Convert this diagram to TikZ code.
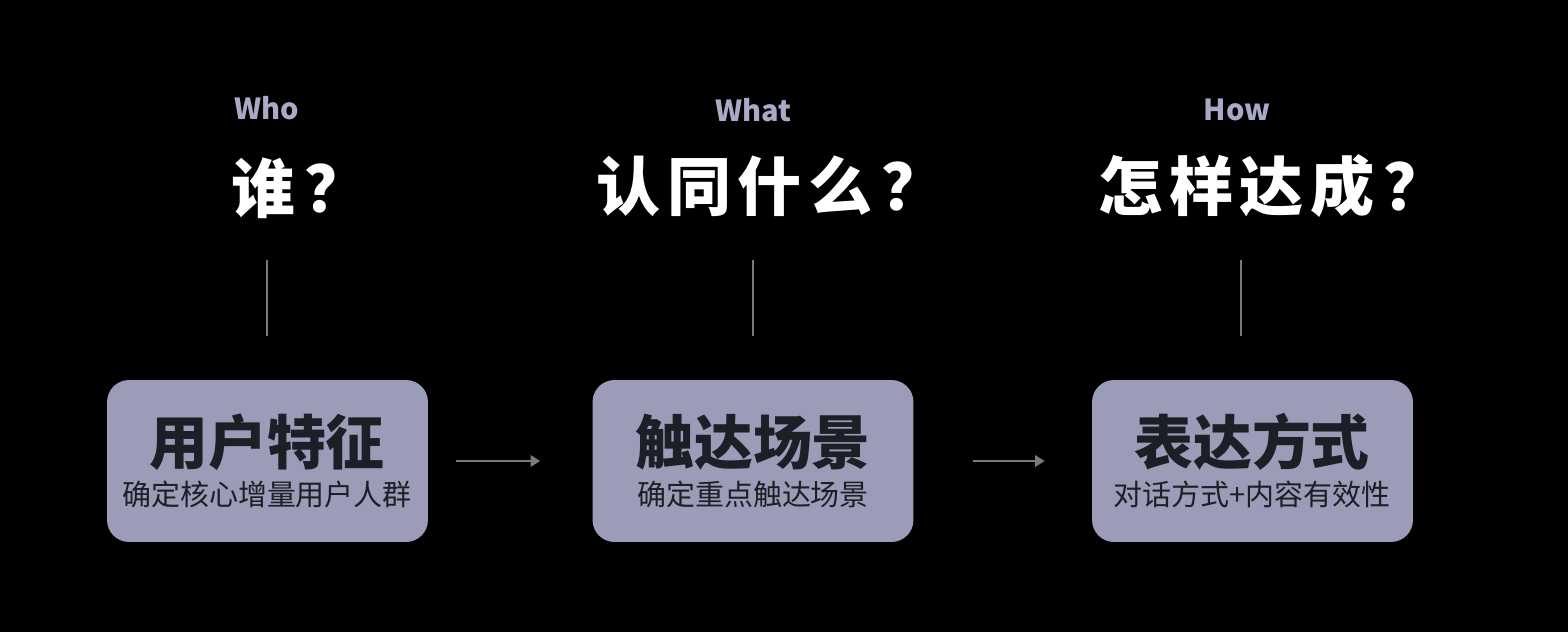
\documentclass[tikz,border=0pt]{standalone}
\usepackage{fontspec}
\newfontfamily\cjk{Noto Sans CJK SC}
\newfontfamily\cjkwide[LetterSpace=10]{Noto Sans CJK SC}
\usetikzlibrary{arrows.meta}
\definecolor{boxfill}{HTML}{9A9CB8}
\definecolor{boxtext}{HTML}{1E1E26}
\definecolor{wlabel}{HTML}{A9AAC6}
\definecolor{linegray}{HTML}{7A7A7A}
\newcommand{\qmark}{\hspace{0.14em}？}
\begin{document}
\begin{tikzpicture}[x=0.02cm,y=-0.02cm]
		    \tikzset{
   			card/.style={draw=none, fill=boxfill, rounded corners=0.44cm, minimum width=6.42cm, minimum height=3.24cm, inner sep=0pt},
    		title/.style={text=boxtext, font=\cjk\bfseries\fontsize{33.5}{36}\selectfont},
    		sub/.style={text=boxtext, font=\cjk\fontsize{16.5}{19}\selectfont},
    		ask/.style={text=white, font=\cjkwide\bfseries\fontsize{36.5}{40}\selectfont},
    		eng/.style={text=wlabel, font=\cjk\bfseries\fontsize{16.5}{18}\selectfont},
    		tick/.style={draw=linegray, line width=0.6pt},
    		arc/.style={-{Triangle[length=5.5pt,width=6.5pt]}, draw=linegray, line width=1.3pt}
		    }
            \fill[black] (0,0) rectangle (1568,632);

            \draw node[card] (c1) at (267.5,461) {};
            \draw node[card] (c2) at (753,461) {};
            \draw node[card] (c3) at (1252.5,461) {};

            \draw node[title] (t1) at (267,442) {用户特征};
            \draw node[title] (t2) at (753,442) {触达场景};
            \draw node[title] (t3) at (1252,442) {表达方式};
            \draw node[sub] (s1) at (267,494) {确定核心增量用户人群};
            \draw node[sub] (s2) at (753,494) {确定重点触达场景};
            \draw node[sub] (s3) at (1252,494) {对话方式+内容有效性};

            \draw node[eng] (e1) at (267,108) {Who};
            \draw node[eng] (e2) at (753,110) {What};
            \draw node[eng] (e3) at (1237,110) {How};
            \draw node[ask] (q1) at (300,188) {谁\qmark};
            \draw node[ask] (q2) at (771,186) {认同什么\qmark};
            \draw node[ask] (q3) at (1273,186) {怎样达成\qmark};

            \coordinate (a1) at (267,260);
            \coordinate (b1) at (267,336);
            \coordinate (a2) at (753,260);
            \coordinate (b2) at (753,336);
            \coordinate (a3) at (1241,260);
            \coordinate (b3) at (1241,336);
            \draw[tick] (a1) -- (b1);
            \draw[tick] (a2) -- (b2);
            \draw[tick] (a3) -- (b3);

            \draw[arc] ([xshift=0.56cm]c1.east) -- ([xshift=-1.04cm]c2.west);
            \draw[arc] ([xshift=1.18cm]c2.east) -- ([xshift=-0.94cm]c3.west);
	    \end{tikzpicture}
\end{document}
